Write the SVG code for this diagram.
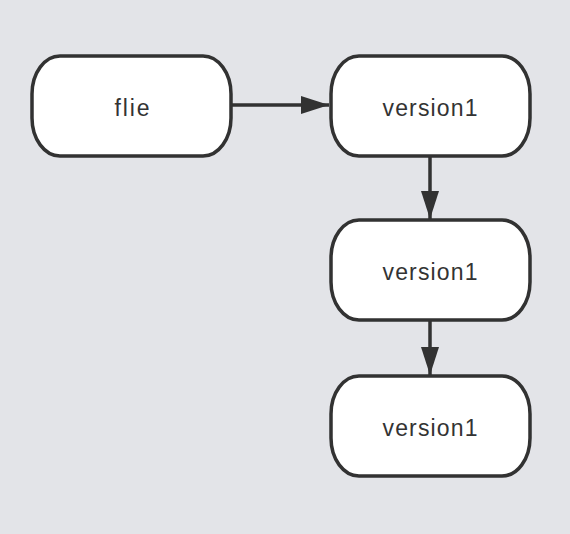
<svg xmlns="http://www.w3.org/2000/svg" width="570" height="534" viewBox="0 0 570 534">
<defs>
<style>
.node rect{fill:#ffffff;stroke:#323232;stroke-width:3.5}
.node text{font-family:"Liberation Sans","Helvetica",Arial,sans-serif;font-size:23px;fill:#333333;text-anchor:middle}
.edge{stroke:#323232;stroke-width:3.5;fill:none}
</style>
<marker id="arrow" markerUnits="userSpaceOnUse" markerWidth="30" markerHeight="20" refX="28" refY="9" orient="auto">
<path d="M0,0 L28,9 L0,18 Z" fill="#323232"/>
</marker>
</defs>
<rect x="0" y="0" width="570" height="534" fill="#e3e4e8"/>
<g id="connectors">
<line class="edge" x1="232" y1="105" x2="329" y2="105" marker-end="url(#arrow)"/>
<line class="edge" x1="430" y1="157" x2="430" y2="219" marker-end="url(#arrow)"/>
<line class="edge" x1="430" y1="321" x2="430" y2="375" marker-end="url(#arrow)"/>
</g>
<g id="node-flie" class="node">
<rect x="32" y="56" width="199" height="100" rx="28" ry="38"/>
<text x="132" y="116" textLength="35">flie</text>
</g>
<g id="node-v1a" class="node">
<rect x="331" y="56" width="199" height="100" rx="28" ry="38"/>
<text x="430" y="116" textLength="95">version1</text>
</g>
<g id="node-v1b" class="node">
<rect x="331" y="220" width="199" height="100" rx="28" ry="38"/>
<text x="430" y="280" textLength="95">version1</text>
</g>
<g id="node-v1c" class="node">
<rect x="331" y="376" width="199" height="100" rx="28" ry="38"/>
<text x="430" y="436" textLength="95">version1</text>
</g>
</svg>
